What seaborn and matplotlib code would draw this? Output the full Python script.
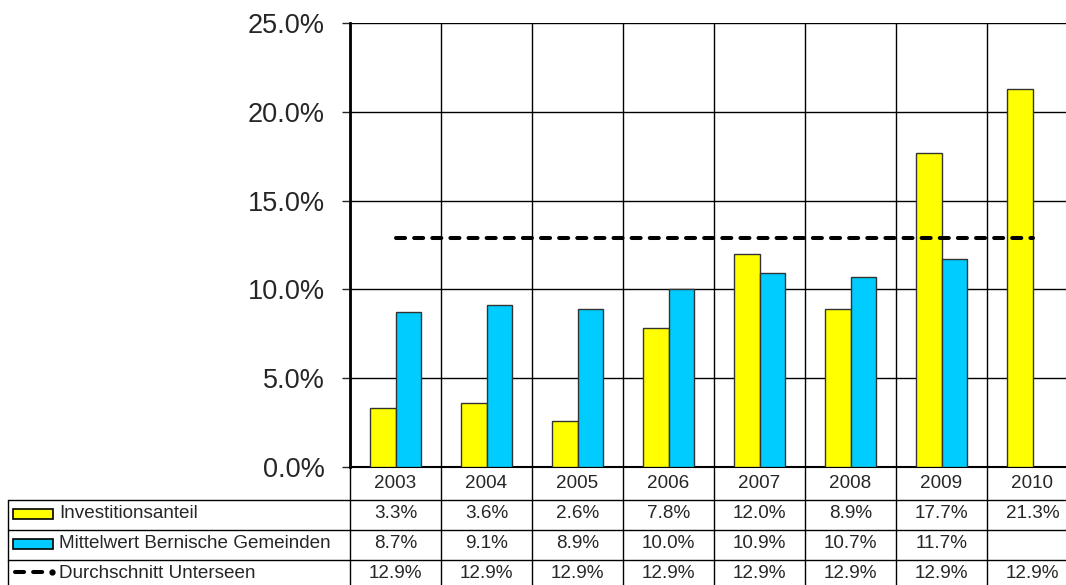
import numpy as np
import pandas as pd
import seaborn as sns
import matplotlib.pyplot as plt
from matplotlib.lines import Line2D
from matplotlib.patches import Rectangle
from matplotlib.ticker import PercentFormatter, MultipleLocator

# data
jahre = ['2003', '2004', '2005', '2006', '2007', '2008', '2009', '2010']
investitionsanteil = [3.3, 3.6, 2.6, 7.8, 12.0, 8.9, 17.7, 21.3]
mittelwert_bern = [8.7, 9.1, 8.9, 10.0, 10.9, 10.7, 11.7, np.nan]
durchschnitt_unterseen = [12.9, 12.9, 12.9, 12.9, 12.9, 12.9, 12.9, 12.9]

reihen = ['Investitionsanteil', 'Mittelwert Bernische Gemeinden', 'Durchschnitt Unterseen']
farben = ['#FFFF00', '#00CCFF']

df = pd.DataFrame({
    'Jahr': jahre * 2,
    'Wert': investitionsanteil + mittelwert_bern,
    'Reihe': [reihen[0]] * len(jahre) + [reihen[1]] * len(jahre),
})

sns.set_style('white')
plt.rcParams['font.family'] = ['Liberation Sans', 'DejaVu Sans']

W, H = 1066, 585
fig = plt.figure(figsize=(W / 100, H / 100), dpi=100)

# plot area in pixel units (cropped on the right like the original)
x0, col_w = 350, 91
y_top, y_bot = 23, 467
ax = fig.add_axes([x0 / W, (H - y_bot) / H, col_w * len(jahre) / W, (y_bot - y_top) / H])

dash_style = dict(color='black', lw=2.9, ls=(0, (2.25, 2.25)), dash_capstyle='round')

sns.barplot(data=df, x='Jahr', y='Wert', hue='Reihe', palette=farben, width=0.57,
            saturation=1, edgecolor='#333333', linewidth=1, ax=ax, legend=False, zorder=3)
ax.plot(np.arange(len(jahre)), durchschnitt_unterseen, zorder=4, **dash_style)

ax.set_xlim(-0.5, len(jahre) - 0.5)
ax.set_ylim(0, 25)
ax.yaxis.set_major_locator(MultipleLocator(5))
ax.yaxis.set_major_formatter(PercentFormatter(decimals=1))
ax.set_xticks(np.arange(len(jahre) + 1) - 0.5, minor=True)
ax.set_xticks([])
ax.set_xlabel('')
ax.set_ylabel('')
ax.grid(axis='y', which='major', color='black', lw=1, zorder=0)
ax.grid(axis='x', which='minor', color='black', lw=1, zorder=0)
ax.tick_params(axis='x', which='both', length=0)
ax.tick_params(axis='y', length=6, width=1, direction='out', left=True, pad=12, labelsize=19.5)
for s in ['top', 'right']:
    ax.spines[s].set_visible(False)
ax.spines['left'].set_linewidth(2)
ax.spines['left'].set_color('black')
ax.spines['bottom'].set_linewidth(1.5)
ax.spines['bottom'].set_color('black')


# data table below the chart, pixel coords measured from the top
def fx(px):
    return px / W


def fy(py):
    return (H - py) / H


def hline(xa, xb, y, lw=1):
    fig.add_artist(Line2D([fx(xa), fx(xb)], [fy(y), fy(y)], color='black', lw=lw))


def vline(x, ya, yb, lw=1):
    fig.add_artist(Line2D([fx(x), fx(x)], [fy(ya), fy(yb)], color='black', lw=lw))


rows = [467, 500, 530, 560, 590]
x_left = 8
x_right = x0 + col_w * len(jahre)
fs = 13.6

for y in rows[1:]:
    hline(x_left, x_right, y)
vline(x_left, rows[1], H)
for i in range(len(jahre) + 1):
    vline(x0 + col_w * i, rows[0], H)

werte = [investitionsanteil, mittelwert_bern, durchschnitt_unterseen]
for i, j in enumerate(jahre):
    cx = x0 + col_w * (i + 0.5)
    fig.text(fx(cx), fy((rows[0] + rows[1]) / 2), j, ha='center', va='center', fontsize=fs)
    for r, serie in enumerate(werte):
        v = serie[i]
        if not np.isnan(v):
            fig.text(fx(cx), fy((rows[r + 1] + rows[r + 2]) / 2 - 1), f'{v:.1f}%',
                     ha='center', va='center', fontsize=fs)

# legend keys inside the table
for r, farbe in enumerate(farben):
    yc = (rows[r + 1] + rows[r + 2]) / 2 - 1
    fig.add_artist(Rectangle((fx(13), fy(yc + 5)), fx(53) - fx(13), fy(yc - 5) - fy(yc + 5),
                             facecolor=farbe, edgecolor='black', lw=1.2))
yc = (rows[3] + rows[4]) / 2 - 3
fig.add_artist(Line2D([fx(15), fx(45)], [fy(yc), fy(yc)], **dash_style))
fig.add_artist(Line2D([fx(52)], [fy(yc)], color='black', marker='o', ms=3.5, lw=0))
for r, name in enumerate(reihen):
    yc = (rows[r + 1] + rows[r + 2]) / 2 - 1
    fig.text(fx(59), fy(yc), name, ha='left', va='center', fontsize=fs)

fig.savefig('out.png', dpi=100)
